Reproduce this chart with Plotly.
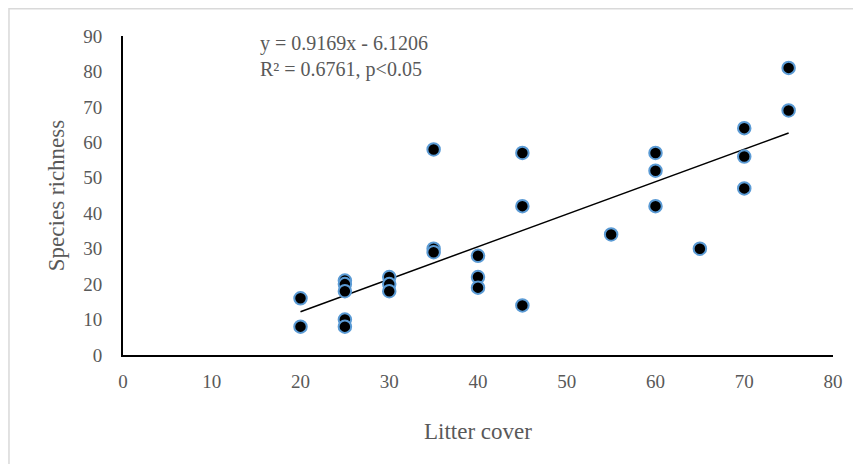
import plotly.graph_objects as go

litter_cover = [20, 20, 25, 25, 25, 25, 25, 30, 30, 30, 35, 35, 35, 40, 40, 40,
                45, 45, 45, 55, 60, 60, 60, 65, 70, 70, 70, 75, 75]
species_richness = [16, 8, 21, 20, 18, 10, 8, 22, 20, 18, 58, 30, 29, 28, 22, 19,
                    57, 42, 14, 34, 57, 52, 42, 30, 64, 56, 47, 81, 69]

slope = 0.9169
intercept = -6.1206
trend_x = [min(litter_cover), max(litter_cover)]
trend_y = [slope * v + intercept for v in trend_x]

x_ticks = [0, 10, 20, 30, 40, 50, 60, 70, 80]
y_ticks = [0, 10, 20, 30, 40, 50, 60, 70, 80, 90]

FONT = "Liberation Serif"
GRAY = "#595959"

fig = go.Figure()
fig.add_trace(go.Scatter(
    x=trend_x, y=trend_y, mode="lines",
    line=dict(color="black", width=1.5), hoverinfo="skip", showlegend=False))
fig.add_trace(go.Scatter(
    x=litter_cover, y=species_richness, mode="markers",
    marker=dict(color="black", size=12.5, line=dict(color="#5b9bd5", width=2)),
    showlegend=False))

fig.update_layout(
    width=853, height=456,
    margin=dict(l=115, r=28, t=28, b=109),
    paper_bgcolor="white", plot_bgcolor="white",
    font=dict(family=FONT, color=GRAY, size=16),
    xaxis=dict(range=[0, 80], tickvals=x_ticks, showgrid=False, zeroline=False,
               showline=True, linecolor="black", linewidth=2,
               ticks="outside", ticklen=8, tickcolor="rgba(0,0,0,0)",
               tickfont=dict(family=FONT, size=19, color=GRAY),
               title=dict(text="Litter cover", font=dict(family=FONT, size=23, color=GRAY), standoff=32)),
    yaxis=dict(range=[0, 90], tickvals=y_ticks, showgrid=False, zeroline=False,
               showline=True, linecolor="black", linewidth=2,
               ticks="outside", ticklen=15, tickcolor="rgba(0,0,0,0)",
               tickfont=dict(family=FONT, size=19, color=GRAY),
               title=dict(text="Species richness", font=dict(family=FONT, size=23, color=GRAY), standoff=12)),
    shapes=[dict(type="rect", xref="paper", yref="paper",
                 x0=-0.1606, x1=1.2, y0=-0.5, y1=(355 - 8.7) / 319,
                 line=dict(color="#d9d9d9", width=1.5), fillcolor="rgba(0,0,0,0)", layer="below")],
    annotations=[dict(text="y = 0.9169x - 6.1206<br>R² = 0.6761, p<0.05",
                      xref="paper", yref="paper", x=(258 - 123) / 710, y=(355 - 30) / 319,
                      xanchor="left", yanchor="top", align="left", showarrow=False,
                      font=dict(family=FONT, size=20, color=GRAY))],
)

fig.write_html("out.html")
